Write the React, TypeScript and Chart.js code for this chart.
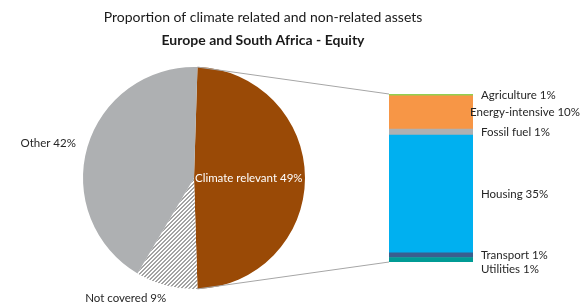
import React, { useEffect, useRef } from "react";
import { Chart, registerables } from "chart.js";

Chart.register(...registerables);

const titleText = "Proportion of climate related and non-related assets";
const subtitleText = "Europe and South Africa - Equity";

const pieLabels = ["Climate relevant", "Not covered", "Other"];
const pieValues = [49, 9, 42];

const barLabels = ["Agriculture", "Energy-intensive", "Fossil fuel", "Housing", "Transport", "Utilities"];
const barValues = [0.5, 9.7, 1.8, 34.3, 1.4, 1.3];
const barPercentText = ["1%", "10%", "1%", "35%", "1%", "1%"];
const barColors = ["#92D050", "#F79646", "#AEB0B2", "#00B0F0", "#3A5F8F", "#009B95"];

const FONT = "Lato, 'Open Sans', 'Liberation Sans', sans-serif";
const TEXT_COLOR = "#262626";

function makeHatch(): CanvasPattern | string {
  const c = document.createElement("canvas");
  c.width = 4;
  c.height = 4;
  const g = c.getContext("2d");
  if (!g) return "#ddd";
  g.fillStyle = "#ffffff";
  g.fillRect(0, 0, 4, 4);
  g.fillStyle = "#a3a3a3";
  for (let x = 0; x < 4; x++) {
    for (let y = 0; y < 4; y++) {
      const k = (x + y) % 4;
      if (k === 0 || k === 1) g.fillRect(x, y, 1, 1);
    }
  }
  const p = g.createPattern(c, "repeat");
  return p || "#ddd";
}

export default function App() {
  const pieRef = useRef<HTMLCanvasElement | null>(null);
  const barRef = useRef<HTMLCanvasElement | null>(null);

  useEffect(() => {
    if (!pieRef.current || !barRef.current) return;
    const hatch = makeHatch();
    const pieColors: any[] = ["#9A4A06", hatch, "#AEB0B2"];

    const titlePlugin = {
      id: "titles",
      afterDraw(chart: any) {
        const ctx = chart.ctx;
        ctx.save();
        ctx.fillStyle = "#1a1a1a";
        ctx.textAlign = "center";
        ctx.textBaseline = "middle";
        ctx.font = `14px ${FONT}`;
        ctx.fillText(titleText, 263, 17);
        ctx.font = `bold 14px ${FONT}`;
        ctx.fillText(subtitleText, 263, 40);
        ctx.restore();
      },
    };

    const pieLabelPlugin = {
      id: "pieLabels",
      afterDatasetsDraw(chart: any) {
        const ctx = chart.ctx;
        const meta = chart.getDatasetMeta(0);
        ctx.save();
        ctx.font = `11.5px ${FONT}`;
        ctx.textBaseline = "middle";
        meta.data.forEach((arc: any, i: number) => {
          const p = arc.getProps(["x", "y", "startAngle", "endAngle", "outerRadius"], true);
          const text = `${pieLabels[i]} ${pieValues[i]}%`;
          if (i === 0) {
            ctx.fillStyle = "#ffffff";
            ctx.textAlign = "left";
            ctx.fillText(text, p.x + 1, p.y);
          } else {
            const mid = (p.startAngle + p.endAngle) / 2;
            const r = p.outerRadius + 13;
            const px = p.x + Math.cos(mid) * r;
            const py = p.y + Math.sin(mid) * r;
            ctx.fillStyle = TEXT_COLOR;
            ctx.textAlign = Math.cos(mid) < 0 ? "right" : "left";
            ctx.fillText(text, px + (i === 1 ? 3 : 1), py);
          }
        });
        ctx.restore();
      },
    };

    const pieChart = new Chart(pieRef.current, {
      type: "pie",
      data: {
        labels: pieLabels,
        datasets: [
          {
            data: pieValues,
            backgroundColor: pieColors,
            borderWidth: 0,
          },
        ],
      },
      options: {
        responsive: false,
        animation: false,
        rotation: 90 - (pieValues[0] * 3.6) / 2,
        layout: { padding: { left: 83, right: 283, top: 67, bottom: 18 } },
        plugins: { legend: { display: false }, tooltip: { enabled: false }, title: { display: false } },
      },
      plugins: [titlePlugin, pieLabelPlugin],
    } as any);

    const connectorPlugin = {
      id: "connectors",
      afterDatasetsDraw(chart: any) {
        const ctx = chart.ctx;
        const arc = pieChart.getDatasetMeta(0).data[0] as any;
        const a = arc.getProps(["x", "y", "startAngle", "endAngle", "outerRadius"], true);
        const nBar = chart.data.datasets.length;
        const topEl = chart.getDatasetMeta(nBar - 1).data[0] as any;
        const botEl = chart.getDatasetMeta(0).data[0] as any;
        const t = topEl.getProps(["x", "y", "base", "width"], true);
        const b = botEl.getProps(["x", "y", "base", "width"], true);
        ctx.save();
        ctx.strokeStyle = "#A6A6A6";
        ctx.lineWidth = 1;
        ctx.beginPath();
        ctx.moveTo(a.x + Math.cos(a.startAngle) * a.outerRadius, a.y + Math.sin(a.startAngle) * a.outerRadius);
        ctx.lineTo(t.x - t.width / 2, t.y);
        ctx.moveTo(a.x + Math.cos(a.endAngle) * a.outerRadius, a.y + Math.sin(a.endAngle) * a.outerRadius);
        ctx.lineTo(b.x - b.width / 2, b.base);
        ctx.stroke();
        ctx.restore();
      },
    };

    const barLabelPlugin = {
      id: "barLabels",
      afterDatasetsDraw(chart: any) {
        const ctx = chart.ctx;
        ctx.save();
        ctx.font = `11.5px ${FONT}`;
        ctx.textBaseline = "middle";
        ctx.textAlign = "left";
        ctx.fillStyle = TEXT_COLOR;
        const n = barLabels.length;
        let prevY = -1e9;
        for (let i = 0; i < n; i++) {
          const dsIndex = n - 1 - i;
          const el = chart.getDatasetMeta(dsIndex).data[0] as any;
          const p = el.getProps(["x", "y", "base", "width"], true);
          let cy = (p.y + p.base) / 2;
          cy = Math.max(cy, prevY + 14);
          prevY = cy;
          const text = `${barLabels[i]} ${barPercentText[i]}`;
          const w = ctx.measureText(text).width;
          const x = Math.min(p.x + p.width / 2 + 8, 580 - w);
          ctx.fillText(text, x, cy);
        }
        ctx.restore();
      },
    };

    const total = barValues.reduce((s, v) => s + v, 0);
    const barDatasets = barLabels
      .map((lab, i) => ({
        label: lab,
        data: [barValues[i]],
        backgroundColor: barColors[i],
        borderWidth: 0,
        barPercentage: 1,
        categoryPercentage: 1,
      }))
      .reverse();

    const barChart = new Chart(barRef.current, {
      type: "bar",
      data: { labels: [""], datasets: barDatasets },
      options: {
        responsive: false,
        animation: false,
        layout: { padding: { left: 389, right: 115, top: 94, bottom: 45 } },
        scales: {
          x: { stacked: true, display: false },
          y: { stacked: true, display: false, min: 0, max: total },
        },
        plugins: { legend: { display: false }, tooltip: { enabled: false }, title: { display: false } },
      },
      plugins: [connectorPlugin, barLabelPlugin],
    } as any);

    return () => {
      barChart.destroy();
      pieChart.destroy();
    };
  }, []);

  return (
    <div style={{ position: "fixed", left: 0, top: 0, width: 588, height: 307, background: "#ffffff" }}>
      <canvas ref={pieRef} width={588} height={307} style={{ position: "absolute", left: 0, top: 0 }} />
      <canvas ref={barRef} width={588} height={307} style={{ position: "absolute", left: 0, top: 0 }} />
    </div>
  );
}
